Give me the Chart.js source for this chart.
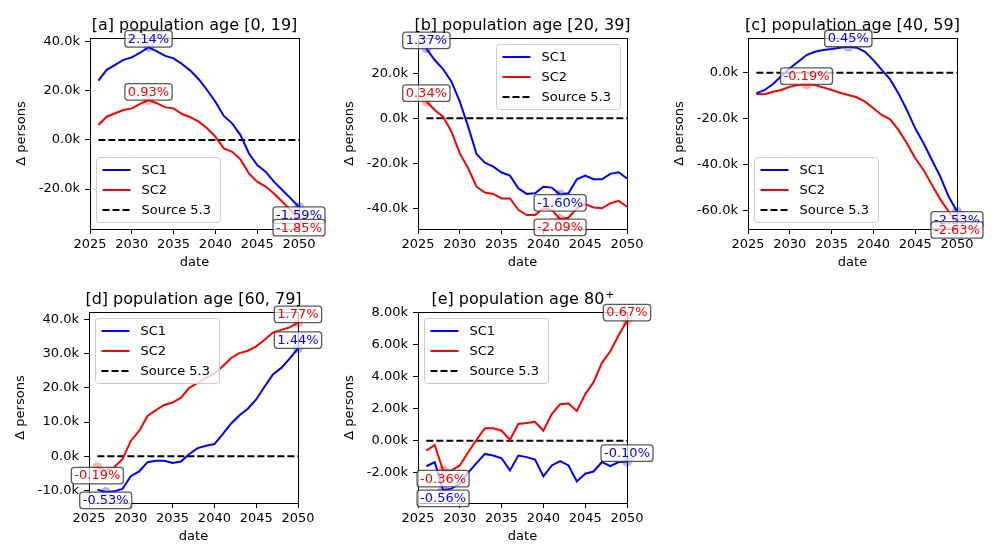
<!DOCTYPE html>
<html>
<head>
<meta charset="utf-8">
<script src="https://cdn.jsdelivr.net/npm/chart.js@4.4.1/dist/chart.umd.min.js"></script>
<style>
  body { margin: 0; width: 997px; height: 548px; overflow: hidden; background: #fff; position: relative; }
  canvas { position: absolute; }
</style>
</head>
<body>
<canvas id="grafA" width="334" height="279" style="left:10px; top:0px"></canvas>
<canvas id="grafB" width="334" height="279" style="left:338px; top:0px"></canvas>
<canvas id="grafC" width="334" height="279" style="left:668px; top:0px"></canvas>
<canvas id="grafD" width="334" height="279" style="left:9px; top:274px"></canvas>
<canvas id="grafE" width="334" height="279" style="left:338px; top:274px"></canvas>
<script>
var anos = [2026, 2027, 2028, 2029, 2030, 2031, 2032, 2033, 2034, 2035, 2036, 2037, 2038,
  2039, 2040, 2041, 2042, 2043, 2044, 2045, 2046, 2047, 2048, 2049, 2050];
var fonte53 = [0, 0, 0, 0, 0, 0, 0, 0, 0, 0, 0, 0, 0, 0, 0, 0, 0, 0, 0, 0, 0, 0, 0, 0, 0];
var ticksAnos = [2025, 2030, 2035, 2040, 2045, 2050];

// [a] 0-19
var aSC1 = [24200, 28600, 30600, 32700, 33700, 35600, 37900, 36100, 34300, 33300, 31000, 28300, 24800,
  20400, 15600, 9800, 6800, 2000, -5400, -10200, -12900, -17000, -20400, -23800, -27300];
var aSC2 = [6100, 9500, 10900, 12200, 12900, 14700, 16300, 15000, 13300, 12900, 10600, 9300, 7500,
  4800, 1400, -3400, -4800, -7900, -13600, -17000, -19000, -21800, -25200, -28600, -32400];
var ticksA = [-20000, 0, 20000, 40000];
// [b] 20-39
var bSC1 = [31000, 25900, 21900, 16300, 7400, -3700, -15900, -19700, -21500, -24100, -25500, -31100, -33600,
  -33300, -30400, -30800, -33900, -33300, -27100, -25500, -27100, -27100, -24700, -24000, -26700];
var bSC2 = [7500, 3700, 700, -5900, -15600, -22200, -30400, -33000, -33600, -35600, -35600, -40700, -43000,
  -43000, -40000, -40700, -44800, -44200, -40000, -38100, -39600, -40000, -37800, -36700, -39300];
var ticksB = [-40000, -20000, 0, 20000];
// [c] 40-59
var cSC1 = [-9000, -7500, -4900, -1400, 1900, 4800, 7700, 9100, 9900, 10300, 10900, 11300, 10900,
  9100, 5500, 1200, -2900, -9000, -16200, -24200, -30700, -38000, -45200, -53900, -60400];
var cSC2 = [-9300, -9400, -8300, -7500, -6100, -5400, -5100, -5400, -6400, -7500, -8700, -9700, -10700,
  -12600, -15500, -18400, -20300, -24900, -30700, -37200, -42300, -48800, -55100, -60400, -64800];
var ticksC = [-60000, -40000, -20000, 0];
// [d] 60-79
var dSC1 = [-9700, -10400, -10200, -9500, -5800, -4400, -1700, -1300, -1300, -1900, -1500, 700, 2400,
  3100, 3600, 6500, 9600, 12000, 13900, 16600, 20300, 23900, 25800, 28500, 31500];
var dSC2 = [-3200, -3900, -3200, -800, 4500, 7400, 11800, 13500, 15000, 15700, 17100, 20000, 21400,
  22900, 24100, 26300, 28700, 30100, 30800, 32100, 34000, 36100, 36900, 37600, 39000];
var ticksD = [-10000, 0, 10000, 20000, 30000, 40000];
// [e] 80+
var eSC1 = [-1600, -1350, -3100, -3000, -2700, -2000, -1400, -830, -930, -1100, -1860, -930, -1030,
  -1180, -2240, -1550, -1280, -1550, -2550, -2070, -1930, -1340, -1590, -1340, -1300];
var eSC2 = [-620, -270, -1860, -1860, -1550, -720, 60, 770, 770, 620, 60, 1040, 1100,
  1180, 620, 1660, 2280, 2320, 1860, 2900, 3660, 4870, 5590, 6600, 7500];
var ticksE = [-2000, 0, 2000, 4000, 6000, 8000];

// labels: [serie, ano, texto, tipo]
var rotulosA = [["SC1", 2032, "2.14%", "max"], ["SC1", 2050, "-1.59%", "min"],
  ["SC2", 2032, "0.93%", "max"], ["SC2", 2050, "-1.85%", "min"]];
var rotulosB = [["SC1", 2026, "1.37%", "max"], ["SC1", 2042, "-1.60%", "min"],
  ["SC2", 2026, "0.34%", "max"], ["SC2", 2042, "-2.09%", "min"]];
var rotulosC = [["SC1", 2037, "0.45%", "max"], ["SC1", 2050, "-2.53%", "min"],
  ["SC2", 2032, "-0.19%", "max"], ["SC2", 2050, "-2.63%", "min"]];
var rotulosD = [["SC1", 2050, "1.44%", "max"], ["SC1", 2027, "-0.53%", "min"],
  ["SC2", 2050, "1.77%", "max"], ["SC2", 2026, "-0.19%", "min"]];
var rotulosE = [["SC1", 2050, "-0.10%", "max"], ["SC1", 2028, "-0.56%", "min"],
  ["SC2", 2050, "0.67%", "max"], ["SC2", 2028, "-0.36%", "min"]];

var FONTE = "DejaVu Sans";
Chart.defaults.font.family = FONTE;
Chart.defaults.font.size = 13;
Chart.defaults.color = "#000";

var cores = { SC1: "#0000ff", SC2: "#ff0000" };
var coresClaras = { SC1: "rgba(0,0,255,0.3)", SC2: "rgba(255,0,0,0.3)" };

function caixaArredondada(ctx, x, y, w, h, r) {
  ctx.beginPath();
  ctx.moveTo(x + r, y);
  ctx.arcTo(x + w, y, x + w, y + h, r);
  ctx.arcTo(x + w, y + h, x, y + h, r);
  ctx.arcTo(x, y + h, x, y, r);
  ctx.arcTo(x, y, x + w, y, r);
  ctx.closePath();
}

function pontos(valores) {
  var lista = [];
  for (var i = 0; i < anos.length; i++) {
    lista.push({ x: anos[i], y: valores[i] });
  }
  return lista;
}

function criarGrafico(id, titulo, sobrescrito, sc1, sc2, yMin, yMax, yTicks, casas, rotulos, posLegenda) {
  var series = { SC1: sc1, SC2: sc2 };

  var pluginDesenho = {
    id: "desenho_" + id,
    afterDatasetsDraw: function (chart) {
      var ctx = chart.ctx;
      var a = chart.chartArea;
      ctx.save();
      ctx.strokeStyle = "#000";
      ctx.lineWidth = 1;
      ctx.strokeRect(a.left + 0.5, a.top + 0.5, a.right - a.left, a.bottom - a.top);
      ctx.restore();
    },
    afterDraw: function (chart) {
      var ctx = chart.ctx;
      var a = chart.chartArea;
      var sx = chart.scales.x;
      var sy = chart.scales.y;
      ctx.save();

      // marcadores
      for (var i = 0; i < rotulos.length; i++) {
        var r = rotulos[i];
        var idx = anos.indexOf(r[1]);
        var px = sx.getPixelForValue(r[1]);
        var py = sy.getPixelForValue(series[r[0]][idx]);
        ctx.fillStyle = coresClaras[r[0]];
        ctx.beginPath();
        ctx.arc(px, py, 5, 0, Math.PI * 2);
        ctx.fill();
      }

      // caixas de texto
      ctx.font = "13px " + FONTE;
      ctx.textAlign = "center";
      ctx.textBaseline = "middle";
      for (var j = 0; j < rotulos.length; j++) {
        var rt = rotulos[j];
        var k = anos.indexOf(rt[1]);
        var x0 = sx.getPixelForValue(rt[1]);
        var y0 = sy.getPixelForValue(series[rt[0]][k]);
        var tw = ctx.measureText(rt[2]).width;
        var bw = tw + 6, bh = 16.5;
        var top = rt[3] == "max" ? y0 - bh : y0;
        caixaArredondada(ctx, x0 - bw / 2, top, bw, bh, 3);
        ctx.fillStyle = "rgba(255,255,255,0.72)";
        ctx.fill();
        ctx.strokeStyle = "rgba(60,60,60,0.85)";
        ctx.lineWidth = 1.3;
        ctx.stroke();
        ctx.fillStyle = cores[rt[0]];
        ctx.fillText(rt[2], x0, top + bh / 2 + 0.5);
      }

      // legenda
      var lw = 124, lh = 65, m = 6.5;
      var lx = posLegenda.indexOf("left") >= 0 ? a.left + m : a.right - m - lw;
      var ly = posLegenda.indexOf("upper") >= 0 ? a.top + m : a.bottom - m - lh;
      caixaArredondada(ctx, lx, ly, lw, lh, 3);
      ctx.fillStyle = "rgba(255,255,255,0.8)";
      ctx.fill();
      ctx.strokeStyle = "#cccccc";
      ctx.lineWidth = 1;
      ctx.stroke();
      var itens = [["SC1", "#0000ff", []], ["SC2", "#ff0000", []], ["Source 5.3", "#000", [7, 3]]];
      ctx.textAlign = "left";
      for (var n = 0; n < itens.length; n++) {
        var yy = ly + 12.5 + n * 20;
        ctx.strokeStyle = itens[n][1];
        ctx.lineWidth = 2;
        ctx.setLineDash(itens[n][2]);
        ctx.beginPath();
        ctx.moveTo(lx + 6, yy);
        ctx.lineTo(lx + 34, yy);
        ctx.stroke();
        ctx.setLineDash([]);
        ctx.fillStyle = "#000";
        ctx.fillText(itens[n][0], lx + 45, yy + 0.5);
      }

      // titulo
      ctx.font = "16px " + FONTE;
      ctx.fillStyle = "#000";
      ctx.textBaseline = "alphabetic";
      var cx = (a.left + a.right) / 2;
      var wt = ctx.measureText(titulo).width;
      var ws = 0;
      if (sobrescrito) {
        ctx.font = "11px " + FONTE;
        ws = ctx.measureText(sobrescrito).width;
        ctx.font = "16px " + FONTE;
      }
      ctx.textAlign = "left";
      var xt = cx - (wt + ws) / 2;
      ctx.fillText(titulo, xt, a.top - 8);
      if (sobrescrito) {
        ctx.font = "11px " + FONTE;
        ctx.fillText(sobrescrito, xt + wt + 1, a.top - 14);
      }
      ctx.restore();
    }
  };

  var config = {
    type: "line",
    data: {
      datasets: [
        { label: "SC1", data: pontos(sc1), borderColor: "#0000ff", borderWidth: 2, pointRadius: 0, fill: false },
        { label: "SC2", data: pontos(sc2), borderColor: "#ff0000", borderWidth: 2, pointRadius: 0, fill: false },
        { label: "Source 5.3", data: pontos(fonte53), borderColor: "#000", borderWidth: 2, borderDash: [7, 3], pointRadius: 0, fill: false }
      ]
    },
    options: {
      responsive: false,
      animation: false,
      devicePixelRatio: 1,
      layout: { padding: { left: 0, top: 38, right: 45, bottom: 0 } },
      plugins: { legend: { display: false }, tooltip: { enabled: false } },
      scales: {
        x: {
          type: "linear",
          min: 2025,
          max: 2050,
          afterFit: function (s) { s.height = 50; },
          afterBuildTicks: function (s) {
            s.ticks = ticksAnos.map(function (v) { return { value: v }; });
          },
          ticks: { padding: 3, maxRotation: 0, autoSkip: false, callback: function (v) { return String(v); } },
          grid: { display: true, drawOnChartArea: false, drawTicks: true, tickLength: 5, color: "#000" },
          border: { display: true, color: "#000", width: 1 },
          title: { display: true, text: "date", font: { size: 13 }, padding: { top: 0, bottom: 9 } }
        },
        y: {
          min: yMin,
          max: yMax,
          afterFit: function (s) { s.width = 80; },
          afterBuildTicks: function (s) {
            s.ticks = yTicks.map(function (v) { return { value: v }; });
          },
          ticks: {
            padding: 5,
            autoSkip: false,
            callback: function (v) { return (v / 1000).toFixed(casas) + "k"; }
          },
          grid: { display: true, drawOnChartArea: false, drawTicks: true, tickLength: 5, color: "#000" },
          border: { display: true, color: "#000", width: 1 },
          title: { display: true, text: "Δ persons", font: { size: 13 }, padding: { top: 4, bottom: 0 } }
        }
      }
    },
    plugins: [pluginDesenho]
  };

  return new Chart(document.getElementById(id), config);
}

var graficoA = criarGrafico("grafA", "[a] population age [0, 19]", "", aSC1, aSC2, -36300, 41600, ticksA, 1, rotulosA, "lower left");
var graficoB = criarGrafico("grafB", "[b] population age [20, 39]", "", bSC1, bSC2, -49200, 35700, ticksB, 1, rotulosB, "upper right");
var graficoC = criarGrafico("grafC", "[c] population age [40, 59]", "", cSC1, cSC2, -68000, 15100, ticksC, 1, rotulosC, "lower left");
var graficoD = criarGrafico("grafD", "[d] population age [60, 79]", "", dSC1, dSC2, -13600, 42100, ticksD, 1, rotulosD, "upper left");
var graficoE = criarGrafico("grafE", "[e] population age 80", "+", eSC1, eSC2, -3900, 8050, ticksE, 2, rotulosE, "upper left");
</script>
</body>
</html>
